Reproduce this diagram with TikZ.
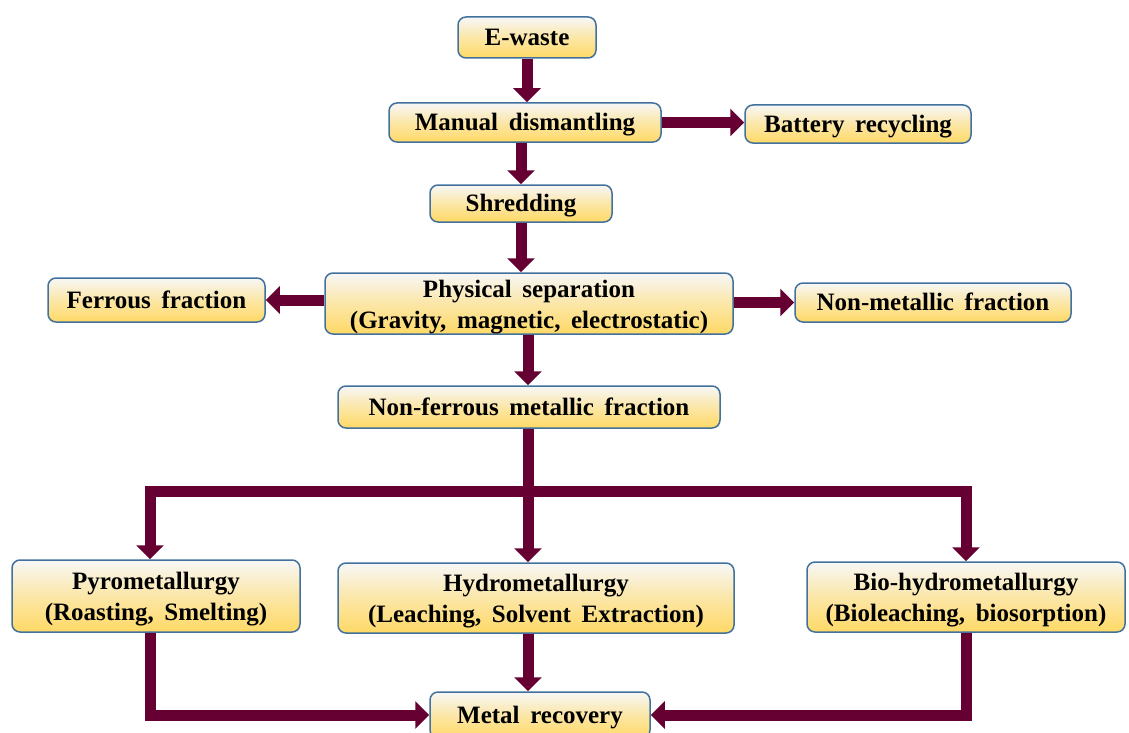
\documentclass[tikz,border=0pt]{standalone}
\usepackage{fontspec}
\setmainfont{Liberation Serif}[WordSpace=1.7]
\usetikzlibrary{arrows.meta}

\definecolor{flowred}{HTML}{660033}
\definecolor{boxedge}{HTML}{41719C}
\definecolor{boxtop}{HTML}{F7F7F7}
\definecolor{boxbot}{HTML}{FFD966}

\newcommand{\topstrut}{\rule{0pt}{24pt}}

\begin{document}
\begin{tikzpicture}[x=1pt,y=-1pt,
  stage/.style={draw=boxedge,line width=1.5pt,rounded corners=8pt,
    top color=boxtop,bottom color=boxbot,middle color=boxtop!45!boxbot,
    align=center,inner sep=0pt,font=\bfseries\fontsize{25}{31}\selectfont,
    execute at begin node={\rule{0pt}{22.5pt}},
    execute at end node={\rule[-6pt]{0pt}{0pt}}},
  flow/.style={flowred,line width=11pt,-{Triangle[width=27pt,length=14pt]}},
  trunk/.style={flowred,line width=11pt}]
\useasboundingbox (0,0) rectangle (1129,733);
\clip (0,0) rectangle (1129,733);

% stages
\node[stage,minimum width=138pt,minimum height=41pt] (ewaste) at (527,37.5) {E-waste};
\node[stage,minimum width=272pt,minimum height=39pt] (manual) at (525,122.5) {Manual dismantling};
\node[stage,minimum width=226pt,minimum height=38pt] (battery) at (858,124) {Battery recycling};
\node[stage,minimum width=182pt,minimum height=37pt] (shred) at (521,203.5) {Shredding};
\node[stage,minimum width=408pt,minimum height=61pt] (phys) at (529,303.5) {\topstrut Physical separation\\(Gravity, magnetic, electrostatic)};
\node[stage,minimum width=217pt,minimum height=44pt] (ferrous) at (156.5,300) {Ferrous fraction};
\node[stage,minimum width=276pt,minimum height=39pt] (nonmetal) at (933,302.5) {Non-metallic fraction};
\node[stage,minimum width=382pt,minimum height=42pt] (nonferrous) at (529,407) {Non-ferrous metallic fraction};
\node[stage,minimum width=288pt,minimum height=72pt] (pyro) at (156,596) {\topstrut Pyrometallurgy\\(Roasting, Smelting)};
\node[stage,minimum width=396pt,minimum height=70pt] (hydro) at (536,598) {\topstrut Hydrometallurgy\\(Leaching, Solvent Extraction)};
\node[stage,minimum width=318pt,minimum height=70pt] (bio) at (966,597) {\topstrut Bio-hydrometallurgy\\(Bioleaching, biosorption)};
\node[stage,minimum width=220pt,minimum height=46pt] (metal) at (540,715) {Metal recovery};

\coordinate (split) at (528,491.5);

% connectors
\draw[flow] (ewaste.south) -- (ewaste.south |- manual.north);
\draw[flow] (manual.east) -- (manual.east -| battery.west);
\draw[flow] (shred.north |- manual.south) -- (shred.north);
\draw[flow] (shred.south) -- (shred.south |- phys.north);
\draw[flow] (phys.west |- ferrous.east) -- (ferrous.east);
\draw[flow] (phys.east |- nonmetal.west) -- (nonmetal.west);
\draw[flow] (split |- phys.south) -- (split |- nonferrous.north);
\draw[trunk] (split |- nonferrous.south) -- (split);
\draw[flow] (split) -| ([xshift=-6pt]pyro.north);
\draw[flow] (split) -- (split |- hydro.north);
\draw[flow] (split) -| (bio.north);
\draw[flow] ([xshift=-6pt]pyro.south) |- (metal.west);
\draw[flow] (split |- hydro.south) -- (split |- metal.north);
\draw[flow] (bio.south) |- (metal.east);
\end{tikzpicture}
\end{document}
